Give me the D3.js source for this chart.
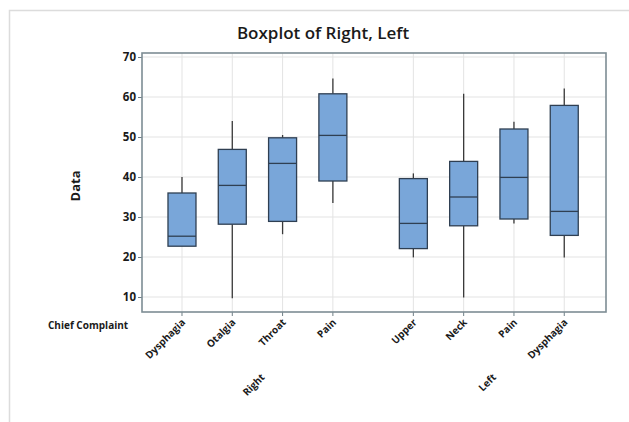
<!DOCTYPE html>
<html>
<head>
<meta charset="utf-8">
<script src="https://cdn.jsdelivr.net/npm/d3@7"></script>
<style>
  body { margin: 0; background: #fff; }
  text { font-family: "Open Sans", "Noto Sans", sans-serif; fill: #1a1a1a; }
</style>
</head>
<body>
<svg width="629" height="422"></svg>
<script>
const svg = d3.select("svg")

// chart values
const groups = ["Right", "Left"]
const complaints = [
    ["Dysphagia", "Otalgia", "Throat", "Pain"],
    ["Upper", "Neck", "Pain", "Dysphagia"]
]
// [min, q1, median, q3, max] per complaint
const rightStats = [
    [22.7, 22.7, 25.2, 36.0, 40.0],
    [9.7, 28.2, 37.9, 46.9, 54.0],
    [25.7, 28.9, 43.4, 49.8, 50.5],
    [33.5, 39.0, 50.4, 60.8, 64.6]
]
const leftStats = [
    [19.9, 22.1, 28.4, 39.6, 40.9],
    [9.9, 27.8, 35.0, 43.9, 60.8],
    [28.4, 29.5, 39.9, 52.0, 53.8],
    [19.9, 25.4, 31.4, 57.9, 62.1]
]
const yTicks = [10, 20, 30, 40, 50, 60, 70]

const plot = {left: 142, right: 606, top: 53, bottom: 312}
const groupGap = 0.6

// flatten into boxes with a position index
const boxes = []
;[rightStats, leftStats].forEach((stats, gi) => {
    stats.forEach((s, i) => {
        boxes.push({
            group: groups[gi],
            name: complaints[gi][i],
            pos: gi * (4 + groupGap) + i,
            min: s[0], q1: s[1], med: s[2], q3: s[3], max: s[4]
        })
    })
})

const xScale = d3.scaleLinear()
    .domain([-0.795, 3 + 4 + groupGap + 0.83])
    .range([plot.left, plot.right])

const yScale = d3.scaleLinear()
    .domain([6.25, 71])
    .range([plot.bottom, plot.top])

// outer light frame
svg.append("path")
    .attr("d", "M9.5,422 V10.5 H629")
    .attr("fill", "none")
    .attr("stroke", "#dcdcdc")
    .attr("stroke-width", 1.5)

// gridlines
svg.append("g").selectAll("line").data(yTicks).join("line")
    .attr("x1", plot.left).attr("x2", plot.right)
    .attr("y1", d => yScale(d)).attr("y2", d => yScale(d))
    .attr("stroke", "#e3e3e3")
svg.append("g").selectAll("line").data(boxes).join("line")
    .attr("x1", d => xScale(d.pos)).attr("x2", d => xScale(d.pos))
    .attr("y1", plot.top).attr("y2", plot.bottom)
    .attr("stroke", "#e3e3e3")

// y axis
const yAxis = svg.append("g")
    .attr("transform", `translate(${plot.left},0)`)
    .call(d3.axisLeft(yScale).tickValues(yTicks).tickSize(4).tickPadding(2))
yAxis.select(".domain").remove()
yAxis.selectAll(".tick line").attr("stroke", "#6f7f86")
yAxis.selectAll("text")
    .style("font-size", "11.5px").style("font-weight", 700).attr("fill", "#1a1a1a")

// x ticks
svg.append("g").selectAll("line").data(boxes).join("line")
    .attr("x1", d => xScale(d.pos)).attr("x2", d => xScale(d.pos))
    .attr("y1", plot.bottom).attr("y2", plot.bottom + 4)
    .attr("stroke", "#6f7f86")

// boxes
const boxW = 28
const bg = svg.append("g").selectAll("g").data(boxes).join("g")
bg.append("line")
    .attr("x1", d => xScale(d.pos)).attr("x2", d => xScale(d.pos))
    .attr("y1", d => yScale(d.max)).attr("y2", d => yScale(d.q3))
    .attr("stroke", "#3a3a3a").attr("stroke-width", 1.3)
bg.append("line")
    .attr("x1", d => xScale(d.pos)).attr("x2", d => xScale(d.pos))
    .attr("y1", d => yScale(d.q1)).attr("y2", d => yScale(d.min))
    .attr("stroke", "#3a3a3a").attr("stroke-width", 1.3)
bg.append("rect")
    .attr("x", d => xScale(d.pos) - boxW / 2)
    .attr("width", boxW)
    .attr("y", d => yScale(d.q3))
    .attr("height", d => yScale(d.q1) - yScale(d.q3))
    .attr("fill", "#79a6d9")
    .attr("stroke", "#2f3f52").attr("stroke-width", 1.3)
bg.append("line")
    .attr("x1", d => xScale(d.pos) - boxW / 2).attr("x2", d => xScale(d.pos) + boxW / 2)
    .attr("y1", d => yScale(d.med)).attr("y2", d => yScale(d.med))
    .attr("stroke", "#2f3f52").attr("stroke-width", 1.3)

// plot frame
svg.append("rect")
    .attr("x", plot.left).attr("y", plot.top)
    .attr("width", plot.right - plot.left).attr("height", plot.bottom - plot.top)
    .attr("fill", "none").attr("stroke", "#7d8d94").attr("stroke-width", 1.6)

// category labels
svg.append("g").selectAll("text").data(boxes).join("text")
    .attr("transform", d => `translate(${xScale(d.pos) + 4},${plot.bottom + 11}) rotate(-45)`)
    .attr("text-anchor", "end")
    .style("font-size", "10px").style("font-weight", 700)
    .text(d => d.name)

// group labels
svg.append("g").selectAll("text").data(groups).join("text")
    .attr("transform", (d, gi) => {
        const c = xScale(gi * (4 + groupGap) + 1.5)
        return `translate(${c + 8},${378}) rotate(-45)`
    })
    .attr("text-anchor", "end")
    .style("font-size", "10px").style("font-weight", 700)
    .text(d => d)

svg.append("text")
    .attr("x", 48).attr("y", 329)
    .style("font-size", "10px").style("font-weight", 700)
    .text("Chief Complaint")

svg.append("text")
    .attr("transform", "translate(80,186) rotate(-90)")
    .attr("text-anchor", "middle")
    .style("font-size", "13px").style("font-weight", 700)
    .text("Data")

svg.append("text")
    .attr("x", 323).attr("y", 39)
    .attr("text-anchor", "middle")
    .style("font-size", "17px").style("font-weight", 600)
    .text("Boxplot of Right, Left")
</script>
</body>
</html>
